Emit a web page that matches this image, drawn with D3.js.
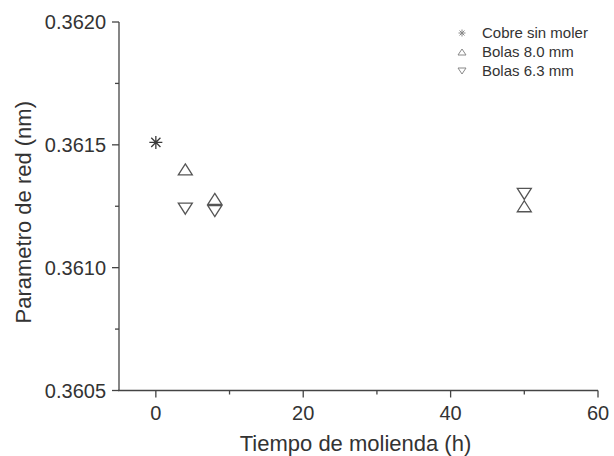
<!DOCTYPE html>
<html>
<head>
<meta charset="utf-8">
<script src="https://cdn.jsdelivr.net/npm/d3@7"></script>
<style>
  html, body { margin: 0; padding: 0; background: #fff; }
  svg { display: block; }
  text { font-family: "Liberation Sans", Arial, sans-serif; fill: #333; }
</style>
</head>
<body>
<svg id="chart" width="614" height="456"></svg>
<script>
// Milling time (h) and lattice parameter (nm)
const seriesNames = ["Cobre sin moler", "Bolas 8.0 mm", "Bolas 6.3 mm"];
const cobreX = [0];
const cobreY = [0.36151];
const bolas80X = [4, 8, 50];
const bolas80Y = [0.36140, 0.36128, 0.36125];
const bolas63X = [4, 8, 50];
const bolas63Y = [0.36124, 0.36123, 0.36130];
const xTicks = [0, 20, 40, 60];
const xMinor = [10, 30, 50];
const yTicks = [0.3605, 0.3610, 0.3615, 0.3620];
const yMinor = [0.36075, 0.36125, 0.36175];

const svg = d3.select("#chart");
const ink = "#444";
const markInk = "#555";

const x = d3.scaleLinear().domain([-5, 60]).range([119, 598]);
const y = d3.scaleLinear().domain([0.3605, 0.3620]).range([390.5, 22]);

// axes
const xAxis = svg.append("g").attr("transform", `translate(0,${y.range()[0]})`);
xAxis.append("line").attr("x1", x.range()[0] - 1).attr("x2", x.range()[1])
  .attr("stroke", ink).attr("stroke-width", 1.3);
xAxis.selectAll(".maj").data(xTicks).join("line")
  .attr("x1", d => x(d)).attr("x2", d => x(d)).attr("y1", 0).attr("y2", 7)
  .attr("stroke", ink).attr("stroke-width", 1.3);
xAxis.selectAll(".min").data(xMinor).join("line").attr("class", "min")
  .attr("x1", d => x(d)).attr("x2", d => x(d)).attr("y1", 0).attr("y2", 4)
  .attr("stroke", ink).attr("stroke-width", 1.3);
xAxis.selectAll("text").data(xTicks).join("text")
  .attr("x", d => x(d)).attr("y", 29).attr("text-anchor", "middle")
  .attr("font-size", 20).text(d => d);

const yAxis = svg.append("g").attr("transform", `translate(${x.range()[0]},0)`);
yAxis.append("line").attr("y1", y.range()[1]).attr("y2", y.range()[0] + 0.6)
  .attr("stroke", ink).attr("stroke-width", 1.3);
yAxis.selectAll(".maj").data(yTicks).join("line")
  .attr("y1", d => y(d)).attr("y2", d => y(d)).attr("x1", 0).attr("x2", -7)
  .attr("stroke", ink).attr("stroke-width", 1.3);
yAxis.selectAll(".min").data(yMinor).join("line").attr("class", "min")
  .attr("y1", d => y(d)).attr("y2", d => y(d)).attr("x1", 0).attr("x2", -4)
  .attr("stroke", ink).attr("stroke-width", 1.3);
yAxis.selectAll("text").data(yTicks).join("text")
  .attr("x", -13).attr("y", d => y(d)).attr("dy", "0.35em").attr("text-anchor", "end")
  .attr("font-size", 20).text(d => d.toFixed(4));

svg.append("text").attr("x", (x.range()[0] + x.range()[1]) / 2 - 3).attr("y", 451)
  .attr("text-anchor", "middle").attr("font-size", 22).text("Tiempo de molienda (h)");
svg.append("text").attr("transform", `translate(31,${(y.range()[0] + y.range()[1]) / 2 + 6}) rotate(-90)`)
  .attr("text-anchor", "middle").attr("font-size", 22).text("Parametro de red (nm)");

// marker shapes
function triPath(w, h, down) {
  const s = down ? -1 : 1;
  return `M0,${-s * h / 2}L${w / 2},${s * h / 2}L${-w / 2},${s * h / 2}Z`;
}
function starPath(r) {
  const d = r * Math.SQRT1_2;
  return `M${-r},0L${r},0M0,${-r}L0,${r}M${-d},${-d}L${d},${d}M${-d},${d}L${d},${-d}`;
}

const plot = svg.append("g");
plot.selectAll(".cobre").data(cobreX.map((v, i) => [v, cobreY[i]])).join("path")
  .attr("transform", d => `translate(${x(d[0])},${y(d[1])})`)
  .attr("d", starPath(6.5)).attr("fill", "none").attr("stroke", "#3a3a3a").attr("stroke-width", 1.3);
plot.selectAll(".b80").data(bolas80X.map((v, i) => [v, bolas80Y[i]])).join("path")
  .attr("transform", d => `translate(${x(d[0])},${y(d[1])})`)
  .attr("d", triPath(14, 11, false)).attr("fill", "none").attr("stroke", markInk).attr("stroke-width", 1.3);
plot.selectAll(".b63").data(bolas63X.map((v, i) => [v, bolas63Y[i]])).join("path")
  .attr("transform", d => `translate(${x(d[0])},${y(d[1])})`)
  .attr("d", triPath(14, 11, true)).attr("fill", "none").attr("stroke", markInk).attr("stroke-width", 1.3);

// legend
const legend = svg.append("g").attr("transform", "translate(462,33)");
const legendShapes = [starPath(3.5), triPath(8, 6, false), triPath(8, 6, true)];
seriesNames.forEach((name, i) => {
  const row = legend.append("g").attr("transform", `translate(0,${i * 19})`);
  row.append("path").attr("d", legendShapes[i]).attr("fill", "none")
    .attr("stroke", "#888").attr("stroke-width", 1);
  row.append("text").attr("x", 20).attr("dy", "0.35em").attr("font-size", 15).text(name);
});
</script>
</body>
</html>
